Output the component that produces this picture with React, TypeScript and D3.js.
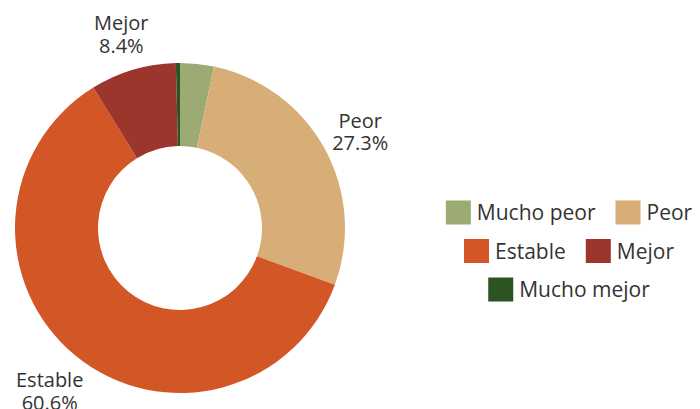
import React from "react";
import * as d3 from "d3";

const categories = ["Mucho peor", "Peor", "Estable", "Mejor", "Mucho mejor"];
const values = [3.3, 27.3, 60.6, 8.4, 0.4];
const colors = ["#9cab73", "#d8ae78", "#d25626", "#9c352c", "#2e5323"];
const labelShown = [false, true, true, true, false];

const W = 700;
const H = 409;
const FONT = "'Open Sans', 'Noto Sans', sans-serif";
const LABEL_SIZE = 20;
const LEGEND_SIZE = 21;

function measure(text: string, size: number): number {
  if (typeof document !== "undefined") {
    const c = document.createElement("canvas");
    const ctx = c.getContext("2d");
    if (ctx) {
      ctx.font = `${size}px 'Open Sans'`;
      return ctx.measureText(text).width;
    }
  }
  return text.length * size * 0.56;
}

export default function App() {
  const cx = 180;
  const cy = 228;
  const outerR = 165;
  const innerR = 82;
  const labelR = 206;

  const data = categories.map((c, i) => ({ name: c, value: values[i], color: colors[i], show: labelShown[i] }));
  const pie = d3.pie<any>().value((d) => d.value).sort(null);
  const arcs = pie(data);
  const arc = d3.arc<any>().innerRadius(innerR).outerRadius(outerR);

  // legend layout
  const sw = 25;
  const swGap = 6;
  const itemGap = 20;
  const maxRow = 290;
  const legendCx = 569;
  const rowY0 = 213;
  const rowStep = 38.5;
  const items = data.map((d) => ({ ...d, w: sw + swGap + measure(d.name, LEGEND_SIZE) }));
  const rows: any[][] = [];
  let cur: any[] = [];
  let curW = 0;
  items.forEach((it) => {
    const add = cur.length ? itemGap + it.w : it.w;
    if (cur.length && curW + add > maxRow) {
      rows.push(cur);
      cur = [it];
      curW = it.w;
    } else {
      cur.push(it);
      curW += add;
    }
  });
  if (cur.length) rows.push(cur);

  return (
    <svg width={W} height={H} style={{ position: "absolute", left: 0, top: 0, fontFamily: FONT }}>
      <g transform={`translate(${cx},${cy})`}>
        {arcs.map((a, i) => (
          <path key={i} d={arc(a) as string} fill={a.data.color} />
        ))}
        {arcs.map((a, i) => {
          if (!a.data.show) return null;
          const mid = (a.startAngle + a.endAngle) / 2;
          const x = Math.sin(mid) * labelR;
          const y = -Math.cos(mid) * labelR;
          return (
            <text key={"l" + i} x={x} y={y} textAnchor="middle" fontSize={LABEL_SIZE} fill="#333">
              <tspan x={x} dy="-0.02em">{a.data.name}</tspan>
              <tspan x={x} dy="1.12em">{a.data.value.toFixed(1)}%</tspan>
            </text>
          );
        })}
      </g>
      {rows.map((row, ri) => {
        const total = row.reduce((s, it, k) => s + it.w + (k ? itemGap : 0), 0);
        let x = legendCx - total / 2;
        const y = rowY0 + ri * rowStep;
        return (
          <g key={"r" + ri}>
            {row.map((it, k) => {
              const gx = x;
              x += it.w + itemGap;
              return (
                <g key={k}>
                  <rect x={gx} y={y - sw / 2} width={sw} height={sw - 1} fill={it.color} />
                  <text x={gx + sw + swGap} y={y} dy="0.35em" fontSize={LEGEND_SIZE} fill="#333">
                    {it.name}
                  </text>
                </g>
              );
            })}
          </g>
        );
      })}
    </svg>
  );
}
